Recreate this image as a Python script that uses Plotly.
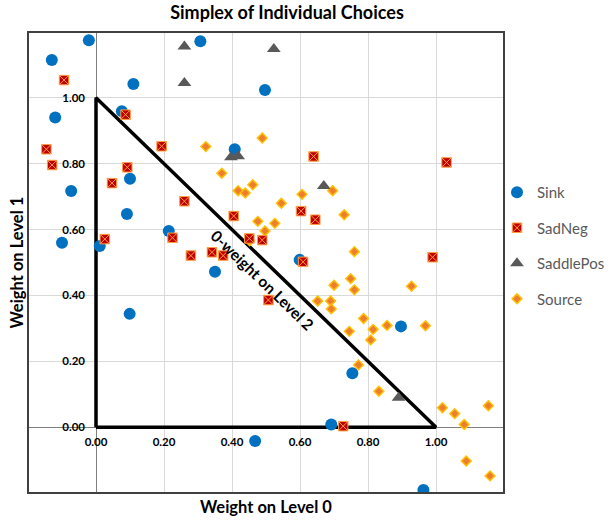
import plotly.graph_objects as go

# ---------------- data ----------------
sink_x = [-0.021, -0.13, 0.307, 0.11, 0.497, -0.12, 0.076, 0.408, -0.073, 0.10, 0.091,
          -0.10, 0.011, 0.214, 0.599, 0.35, 0.099, 0.468, 0.692, 0.754, 0.897, 0.963]
sink_y = [1.175, 1.115, 1.172, 1.042, 1.024, 0.94, 0.959, 0.844, 0.717, 0.754, 0.647,
          0.56, 0.55, 0.596, 0.508, 0.472, 0.344, -0.042, 0.008, 0.164, 0.306, -0.191]

sadneg_x = [-0.094, 0.087, -0.146, -0.129, 0.193, 0.092, 0.047, 0.26, 0.026, 0.225, 0.279, 0.341,
            0.374, 0.405, 0.451, 0.489, 0.609, 0.603, 0.645, 0.64, 0.507, 0.727, 1.031, 0.99]
sadneg_y = [1.054, 0.949, 0.844, 0.796, 0.853, 0.789, 0.741, 0.686, 0.571, 0.575, 0.521, 0.531,
            0.521, 0.641, 0.573, 0.568, 0.502, 0.656, 0.630, 0.822, 0.386, 0.003, 0.804, 0.516]

saddlepos_x = [0.26, 0.26, 0.523, 0.397, 0.418, 0.67, 0.89]
saddlepos_y = [1.156, 1.045, 1.148, 0.82, 0.823, 0.732, 0.089]

source_x = [0.323, 0.489, 0.370, 0.418, 0.439, 0.461, 0.545, 0.606, 0.696, 0.730, 0.476, 0.497,
            0.526, 0.452, 0.760, 0.749, 0.760, 0.928, 0.787, 0.745, 0.815, 0.808, 0.856, 0.969,
            0.772, 0.832, 1.019, 1.055, 1.083, 1.154, 1.089, 1.159, 0.700, 0.652, 0.690, 0.692]
source_y = [0.852, 0.878, 0.771, 0.718, 0.711, 0.736, 0.680, 0.707, 0.718, 0.645, 0.625, 0.596,
            0.619, 0.566, 0.533, 0.451, 0.417, 0.428, 0.330, 0.291, 0.297, 0.265, 0.309, 0.308,
            0.189, 0.109, 0.059, 0.041, 0.008, 0.065, -0.103, -0.148, 0.431, 0.383, 0.383, 0.359]

simplex_x = [0, 1, 0, 0]
simplex_y = [0, 0, 1, 0]

tick_vals = [0.0, 0.2, 0.4, 0.6, 0.8, 1.0]
axis_range = [-0.2, 1.2]

FONT = "Lato"

fig = go.Figure()

fig.add_trace(go.Scatter(x=simplex_x, y=simplex_y, mode="lines",
                         line=dict(color="black", width=3.5), showlegend=False,
                         hoverinfo="skip"))

fig.add_trace(go.Scatter(x=sink_x, y=sink_y, mode="markers", name="Sink",
                         legendgroup="a", legendrank=1,
                         marker=dict(symbol="circle", size=12, color="#0070C0",
                                     line=dict(width=0))))
fig.add_trace(go.Scatter(x=source_x, y=source_y, mode="markers", name="Source",
                         legendgroup="d", legendrank=4,
                         marker=dict(symbol="diamond", size=7.5, color="#ED7D31",
                                     line=dict(color="#FFC000", width=1.5))))
fig.add_trace(go.Scatter(x=sadneg_x, y=sadneg_y, mode="markers", name="SadNeg",
                         legendgroup="b", legendrank=2,
                         marker=dict(symbol="square-x", size=9.5, color="#C00000",
                                     line=dict(color="#FFA040", width=1))))
fig.add_trace(go.Scatter(x=saddlepos_x, y=saddlepos_y, mode="markers", name="SaddlePos",
                         legendgroup="c", legendrank=3,
                         marker=dict(symbol="triangle-up", size=12, color="#595959",
                                     line=dict(width=0))))

zero_pos = (0 - axis_range[0]) / (axis_range[1] - axis_range[0])

fig.update_layout(
    width=612, height=520,
    margin=dict(l=28, r=108, t=32, b=27, autoexpand=False),
    paper_bgcolor="white", plot_bgcolor="white",
    font=dict(family=FONT, color="black"),
    title=dict(text="<b>Simplex of Individual Choices</b>", x=287 / 612, xref="container",
               xanchor="center", y=1 - 13 / 520, yref="container", yanchor="middle",
               font=dict(size=18, family=FONT, color="black")),
    xaxis=dict(range=axis_range, tickvals=tick_vals, tickformat=".2f",
               anchor="free", position=zero_pos, automargin=False,
               showgrid=True, gridcolor="#D9D9D9", gridwidth=1,
               zeroline=True, zerolinecolor="#7F7F7F", zerolinewidth=1,
               showline=False, ticks="", ticklabelstandoff=6,
               tickfont=dict(size=11.5, family=FONT, color="black", weight="bold")),
    yaxis=dict(range=axis_range, tickvals=tick_vals, tickformat=".2f",
               anchor="free", position=zero_pos, automargin=False,
               showgrid=True, gridcolor="#D9D9D9", gridwidth=1,
               zeroline=True, zerolinecolor="#7F7F7F", zerolinewidth=1,
               showline=False, ticks="", ticklabelstandoff=11,
               tickfont=dict(size=11.5, family=FONT, color="black", weight="bold")),
    legend=dict(x=(497 - 28) / 476, xanchor="left", y=(493 - 176) / 461, yanchor="top",
                traceorder="grouped", tracegroupgap=13,
                font=dict(size=15, family=FONT, color="#595959"),
                bgcolor="rgba(0,0,0,0)"),
    showlegend=True,
)

fig.add_shape(type="rect", xref="paper", yref="paper", x0=0, y0=0, x1=1, y1=1,
              line=dict(color="#404040", width=2), layer="above")

fig.add_annotation(text="<b>0-weight on Level 2</b>", x=0.49, y=0.448, xref="x", yref="y",
                   showarrow=False, textangle=44,
                   font=dict(size=15.5, family=FONT, color="black"))
fig.add_annotation(text="<b>Weight on Level 0</b>", x=0.5, y=(493 - 507) / 461,
                   xref="paper", yref="paper", showarrow=False, yanchor="middle",
                   font=dict(size=16.5, family=FONT, color="black"))
fig.add_annotation(text="<b>Weight on Level 1</b>", x=(16 - 28) / 476, y=0.5,
                   xref="paper", yref="paper", showarrow=False, textangle=-90,
                   xanchor="center", font=dict(size=16.5, family=FONT, color="black"))

fig.write_html("out.html")
